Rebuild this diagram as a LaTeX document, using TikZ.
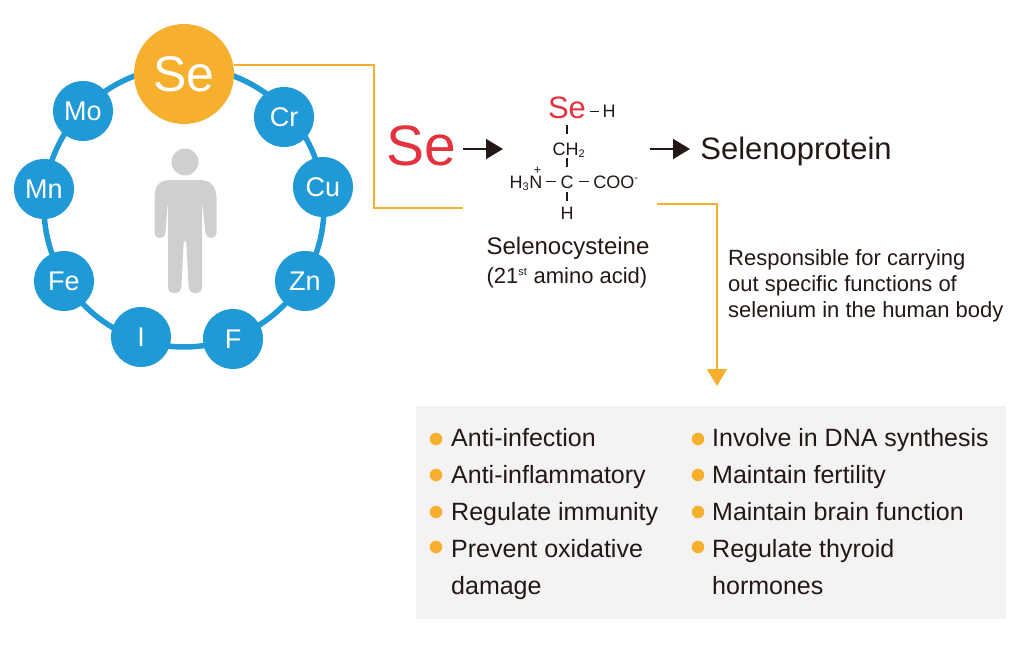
\documentclass[tikz,border=0pt]{standalone}
\usepackage{fontspec}
\setmainfont{Liberation Sans}
\usetikzlibrary{arrows.meta}
\definecolor{seblue}{HTML}{1F9AD6}
\definecolor{seorange}{HTML}{F7B02D}
\definecolor{sered}{HTML}{E4333F}
\definecolor{boxgray}{HTML}{F3F3F3}
\definecolor{mangray}{HTML}{CFCFCF}
\definecolor{inkgray}{HTML}{231815}
\newcommand{\subs}[1]{\textsubscript{\fontsize{11}{11}\selectfont #1}}
\newcommand{\sups}[1]{\textsuperscript{\fontsize{11}{11}\selectfont #1}}
\begin{document}
\begin{tikzpicture}[x=1pt,y=-1pt,text=inkgray]
          \tikzstyle{element}=[circle,fill=seblue,minimum size=60pt,inner sep=0,text=white,font=\fontsize{27}{27}\selectfont]
          \tikzstyle{chem}=[inner sep=0,anchor=base,font=\fontsize{18}{18}\selectfont]
          \tikzstyle{bond}=[draw=inkgray,line width=1.2pt]
          \tikzstyle{list}=[inner sep=0,anchor=base west,font=\fontsize{25}{25}\selectfont]
          \tikzstyle{dot}=[circle,fill=seorange,minimum size=12.5pt,inner sep=0]
          \tikzstyle{link}=[draw=seorange,line width=1.4pt]
          \tikzstyle{reaction}=[draw=inkgray,line width=1.6pt,-{Triangle[length=17pt,width=20pt]}]
          \useasboundingbox (0,0) rectangle (1017,650);
          % ring of elements
          \node [circle,draw=seblue,line width=5.5pt,minimum size=280pt,inner sep=0] (ring) at (184,207) {};
          \node [element] (mo) at (83,111)  {Mo};
          \node [element] (cr) at (284,117) {Cr};
          \node [element] (cu) at (323,187) {Cu};
          \node [element] (zn) at (305,281) {Zn};
          \node [element] (f)  at (233,339) {F};
          \node [element] (i)  at (141,337) {I};
          \node [element] (fe) at (64,281)  {Fe};
          \node [element] (mn) at (44,189)  {Mn};
          \node [circle,fill=seorange,minimum size=100pt,inner sep=0,text=white,font=\fontsize{50}{50}\selectfont] (se) at (184,74) {Se};
          % person
          \node [circle,fill=mangray,minimum size=27pt,inner sep=0] (head) at (185,162) {};
          \fill [mangray,rounded corners=5pt] (166,180) -- (204,180) -- (212,183) -- (216.5,192) -- (216.5,238) -- (206,238)
            -- (202,200) -- (202,293) -- (189,293) -- (186,238) -- (184,238) -- (181,293) -- (168,293) -- (168,200)
            -- (165,238) -- (154.5,238) -- (154.5,192) -- (158,183) -- cycle;
          % reaction
          \node [inner sep=0,text=sered,font=\fontsize{57}{57}\selectfont] (bigse) at (421,146) {Se};
          \node [inner sep=0,text=sered,font=\fontsize{31}{31}\selectfont] (sered) at (567,108) {Se};
          \node [chem] (h1)   at (609,118) {H};
          \node [chem] (ch2)  at (569,155) {CH\subs{2}};
          \node [chem] (c)    at (567,188) {C};
          \node [chem] (nh3)  at (526,188) {H\subs{3}N\llap{\raisebox{14pt}{\fontsize{13}{13}\selectfont +\kern1pt}}};
          \node [chem] (coo)  at (616,188) {COO\sups{-}};
          \node [chem] (h2)   at (567,219) {H};
          \node [inner sep=0,anchor=base,font=\fontsize{24}{24}\selectfont] (sec) at (568,254) {Selenocysteine};
          \node [inner sep=0,anchor=base,font=\fontsize{22}{22}\selectfont] (aa)  at (567,283) {(21\sups{st} amino acid)};
          \node [inner sep=0,anchor=base,font=\fontsize{31}{31}\selectfont] (selp) at (796,160) {Selenoprotein};
          \node [inner sep=0,align=left,anchor=west,font=\fontsize{22}{26}\selectfont] (resp) at (728,286) {Responsible for carrying\\out specific functions of\\selenium in the human body};
          \coordinate (a1) at (463,149);
          \coordinate (a2) at (503,149);
          \coordinate (b1) at (650,149);
          \coordinate (b2) at (690,149);
          \path [reaction] (a1) -- (a2);
          \path [reaction] (b1) -- (b2);
          \path [bond]
          (sered.south -| c) edge [shorten <=6pt,shorten >=8pt] (ch2.north -| c)
          (ch2.south -| c)   edge [shorten >=8pt]               (c.north)
          (c.south)          edge [shorten <=4pt,shorten >=5pt] (h2.north)
          (nh3.east |- c)    edge [shorten <=3pt,shorten >=4pt] (c.west)
          (c.east)           edge [shorten <=5pt,shorten >=4pt] (coo.west |- c)
          (sered.east |- h1) edge [shorten <=4pt,shorten >=3pt] (h1.west);
          % connectors
          \coordinate (l1) at (374,65);
          \coordinate (l2) at (374,208);
          \coordinate (l3) at (463,208);
          \coordinate (m1) at (657,204);
          \coordinate (m2) at (717,204);
          \coordinate (m3) at (717,386);
          \draw [link] (se.east |- l1) -- (l1) -- (l2) -- (l3);
          \draw [link,-{Triangle[length=17pt,width=20pt,fill=seorange]}] (m1) -- (m2) -- (m3);
          % list
          \node [fill=boxgray,minimum width=590pt,minimum height=213pt,inner sep=0] (panel) at (711,512.5) {};
          \node [dot] (d1) at (436,439) {}; \node [list] (t1) at (451,446) {Anti-infection};
          \node [dot] (d2) at (436,475) {}; \node [list] (t2) at (451,483) {Anti-inflammatory};
          \node [dot] (d3) at (436,512) {}; \node [list] (t3) at (451,520) {Regulate immunity};
          \node [dot] (d4) at (436,547) {}; \node [list] (t4) at (451,557) {Prevent oxidative};
          \node [list] (t5) at (451,594) {damage};
          \node [dot] (d6) at (698,439) {}; \node [list] (t6) at (712,446) {Involve in DNA synthesis};
          \node [dot] (d7) at (698,475) {}; \node [list] (t7) at (712,483) {Maintain fertility};
          \node [dot] (d8) at (698,512) {}; \node [list] (t8) at (712,520) {Maintain brain function};
          \node [dot] (d9) at (698,547) {}; \node [list] (t9) at (712,557) {Regulate thyroid};
          \node [list] (t10) at (712,594) {hormones};
\end{tikzpicture}
\end{document}
